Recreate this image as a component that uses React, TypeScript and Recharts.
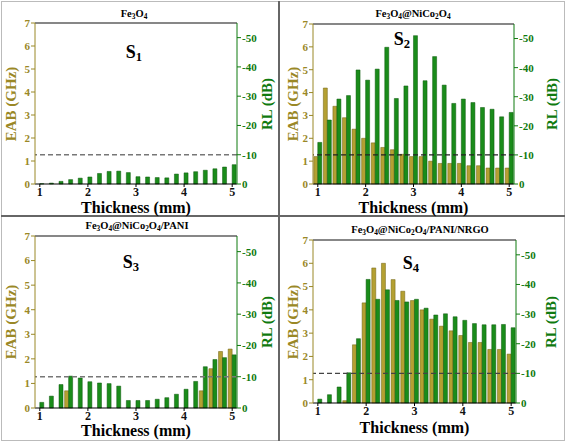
import React from "react";
import { BarChart, Bar, XAxis, YAxis, ReferenceLine } from "recharts";

// thickness (mm), 1.0 .. 5.0 in 0.2 steps
const thickness = [
  "1.0", "1.2", "1.4", "1.6", "1.8", "2.0", "2.2", "2.4", "2.6", "2.8", "3.0",
  "3.2", "3.4", "3.6", "3.8", "4.0", "4.2", "4.4", "4.6", "4.8", "5.0",
];

// EAB (GHz) per sample
const eabS1 = [0, 0, 0, 0, 0, 0, 0, 0, 0, 0, 0, 0, 0, 0, 0, 0, 0, 0, 0, 0, 0];
const eabS2 = [1.2, 4.2, 3.4, 2.9, 2.4, 2.0, 1.8, 1.6, 1.5, 1.3, 1.2, 1.2, 1.0, 0.9, 0.9, 0.9, 0.8, 0.8, 0.7, 0.7, 0.7];
const eabS3 = [0, 0, 0, 0.7, 0, 0, 0, 0, 0, 0, 0, 0, 0, 0, 0, 0, 0, 0.7, 1.6, 2.3, 2.4];
const eabS4 = [0, 0, 0, 0.1, 2.5, 4.3, 5.8, 6.0, 5.3, 4.8, 4.4, 4.0, 3.6, 3.3, 3.1, 2.9, 2.6, 2.6, 2.3, 2.3, 2.1];

// RL min (dB) per sample
const rlS1 = [-0.1, -0.3, -0.9, -1.5, -2.0, -2.4, -3.6, -4.3, -4.4, -3.9, -2.5, -2.4, -2.2, -2.1, -3.4, -3.8, -4.2, -4.7, -5.2, -5.8, -6.6];
const rlS2 = [-14.3, -22.0, -29.2, -30.4, -39.2, -35.7, -39.5, -47.0, -29.4, -33.7, -51.0, -35.5, -43.8, -34.0, -27.7, -29.2, -28.0, -26.3, -25.7, -23.1, -24.6];
const rlS3 = [-1.8, -3.8, -7.5, -10.2, -9.6, -8.4, -8.0, -7.8, -7.0, -2.4, -2.4, -2.4, -2.8, -3.3, -4.4, -6.0, -8.5, -13.2, -15.5, -16.1, -17.0];
const rlS4 = [-1.3, -2.8, -5.4, -10.2, -21.7, -41.7, -35.0, -38.2, -34.6, -34.1, -35.0, -32.0, -29.7, -30.1, -29.1, -27.9, -26.8, -26.4, -26.4, -26.5, -25.4];

const eabTicks = [0, 1, 2, 3, 4, 5, 6, 7];
const rlTicks = [0, -10, -20, -30, -40, -50];

const OLIVE = "#b4a032";
const OLIVE_EDGE = "#6e6010";
const OLIVE_TEXT = "#9a8826";
const GREEN = "#1a8c1a";
const GREEN_EDGE = "#0a560a";
const GREEN_TEXT = "#0f7a0f";
const FONT = "'Liberation Serif', 'Times New Roman', serif";

type PanelProps = {
  box: [number, number, number, number]; // x, y, w, h of chart
  plot: [number, number, number, number]; // left, top, right, bottom of plot area
  eab: number[];
  rl: number[];
  title: React.ReactNode;
  tag: React.ReactNode;
  titlePos: [number, number];
  tagPos: [number, number];
  xLabelY: number;
  eabX: number;
  rlX: number;
  dash: string;
};

const LEFT_W = 24;
const RIGHT_W = 30;
const X_H = 20;

function Centered({ x, y, style, children }: { x: number; y: number; style?: React.CSSProperties; children: React.ReactNode }) {
  return (
    <div
      style={{
        position: "absolute",
        left: x,
        top: y,
        transform: "translate(-50%, -50%)",
        whiteSpace: "nowrap",
        fontFamily: FONT,
        fontWeight: "bold",
        lineHeight: 1,
        ...style,
      }}
    >
      {children}
    </div>
  );
}

function Panel(p: PanelProps) {
  const [x0, y0, w, h] = p.box;
  const [pl, pt, pr, pb] = p.plot;
  const data = thickness.map((t, i) => ({ t, eab: p.eab[i], rl: p.rl[i] }));
  const midY = (pt + pb) / 2;
  const midX = (pl + pr) / 2;
  const tickStyle = { fontFamily: FONT, fontWeight: "bold" as const, fontSize: 11 };

  return (
    <>
      <div style={{ position: "absolute", left: x0, top: y0 }}>
        <BarChart
          width={w}
          height={h}
          data={data}
          barCategoryGap="8%"
          barGap={0}
          margin={{
            left: pl - x0 - LEFT_W,
            right: x0 + w - pr - RIGHT_W,
            top: pt - y0,
            bottom: y0 + h - pb - X_H,
          }}
        >
          <XAxis
            dataKey="t"
            interval={4}
            height={X_H}
            tickFormatter={(v) => String(Math.round(Number(v)))}
            tick={{ ...tickStyle, fontSize: 12, fill: "#111" }}
            stroke="#000"
            tickSize={3}
            tickMargin={0}
          />
          <YAxis
            yAxisId="left"
            width={LEFT_W}
            domain={[0, 7]}
            ticks={eabTicks}
            tick={{ ...tickStyle, fill: OLIVE_TEXT }}
            stroke={OLIVE_TEXT}
            tickSize={4}
            tickMargin={1}
          />
          <YAxis
            yAxisId="right"
            orientation="right"
            width={RIGHT_W}
            domain={[-55, 0]}
            reversed
            ticks={rlTicks}
            tick={{ ...tickStyle, fill: GREEN_TEXT }}
            stroke={GREEN_TEXT}
            tickSize={4}
            tickMargin={1}
          />
          <ReferenceLine yAxisId="left" y={7} stroke="#111" strokeWidth={1.2} />
          <Bar yAxisId="left" dataKey="eab" fill={OLIVE} stroke={OLIVE_EDGE} strokeWidth={0.5} isAnimationActive={false} />
          <Bar yAxisId="right" dataKey="rl" fill={GREEN} stroke={GREEN_EDGE} strokeWidth={0.5} isAnimationActive={false} />
          <ReferenceLine yAxisId="right" y={-10} stroke={p.dash} strokeDasharray="5 3" strokeWidth={1.3} />
        </BarChart>
      </div>
      <Centered x={p.titlePos[0]} y={p.titlePos[1]} style={{ fontSize: 10.5 }}>
        {p.title}
      </Centered>
      <Centered x={p.tagPos[0]} y={p.tagPos[1]} style={{ fontSize: 18 }}>
        {p.tag}
      </Centered>
      <Centered x={midX} y={p.xLabelY} style={{ fontSize: 16, lineHeight: 0.75 }}>
        Thickness (mm)
      </Centered>
      <Centered x={p.eabX} y={midY} style={{ fontSize: 15, color: OLIVE_TEXT, transform: "translate(-50%, -50%) rotate(-90deg)" }}>
        EAB (GHz)
      </Centered>
      <Centered x={p.rlX} y={midY} style={{ fontSize: 15, color: GREEN_TEXT, transform: "translate(-50%, -50%) rotate(-90deg)" }}>
        RL (dB)
      </Centered>
    </>
  );
}

const sub = (s: string) => <sub style={{ fontSize: "0.7em", verticalAlign: "-0.25em" }}>{s}</sub>;

export default function App() {
  return (
    <div style={{ position: "absolute", left: 0, top: 0, width: 567, height: 443, background: "#fff", overflow: "hidden" }}>
      <div style={{ position: "absolute", left: 1, top: 1, width: 562, height: 438, border: "1px solid #bbb" }} />
      <div style={{ position: "absolute", left: 278, top: 1, width: 2, height: 440, background: "#666" }} />
      <div style={{ position: "absolute", left: 1, top: 215, width: 564, height: 2, background: "#666" }} />

      <Panel
        box={[2, 2, 276, 213]}
        plot={[35, 23, 237, 184]}
        eab={eabS1}
        rl={rlS1}
        title={<>Fe{sub("3")}O{sub("4")}</>}
        tag={<>S{sub("1")}</>}
        titlePos={[134, 15]}
        tagPos={[134, 53]}
        xLabelY={208}
        eabX={11}
        rlX={267}
        dash="#777"
      />
      <Panel
        box={[281, 2, 282, 213]}
        plot={[313, 24, 514, 184]}
        eab={eabS2}
        rl={rlS2}
        title={<>Fe{sub("3")}O{sub("4")}@NiCo{sub("2")}O{sub("4")}</>}
        tag={<>S{sub("2")}</>}
        titlePos={[413, 15]}
        tagPos={[402, 40]}
        xLabelY={208}
        eabX={293}
        rlX={552}
        dash="#222"
      />
      <Panel
        box={[2, 218, 276, 221]}
        plot={[35, 236, 237, 408]}
        eab={eabS3}
        rl={rlS3}
        title={<>Fe{sub("3")}O{sub("4")}@NiCo{sub("2")}O{sub("4")}/PANI</>}
        tag={<>S{sub("3")}</>}
        titlePos={[137, 227]}
        tagPos={[131, 263]}
        xLabelY={431}
        eabX={11}
        rlX={267}
        dash="#777"
      />
      <Panel
        box={[281, 218, 282, 221]}
        plot={[313, 240, 516, 403]}
        eab={eabS4}
        rl={rlS4}
        title={<>Fe{sub("3")}O{sub("4")}@NiCo{sub("2")}O{sub("4")}/PANI/NRGO</>}
        tag={<>S{sub("4")}</>}
        titlePos={[420, 231]}
        tagPos={[411, 264]}
        xLabelY={428}
        eabX={293}
        rlX={551}
        dash="#444"
      />
    </div>
  );
}
